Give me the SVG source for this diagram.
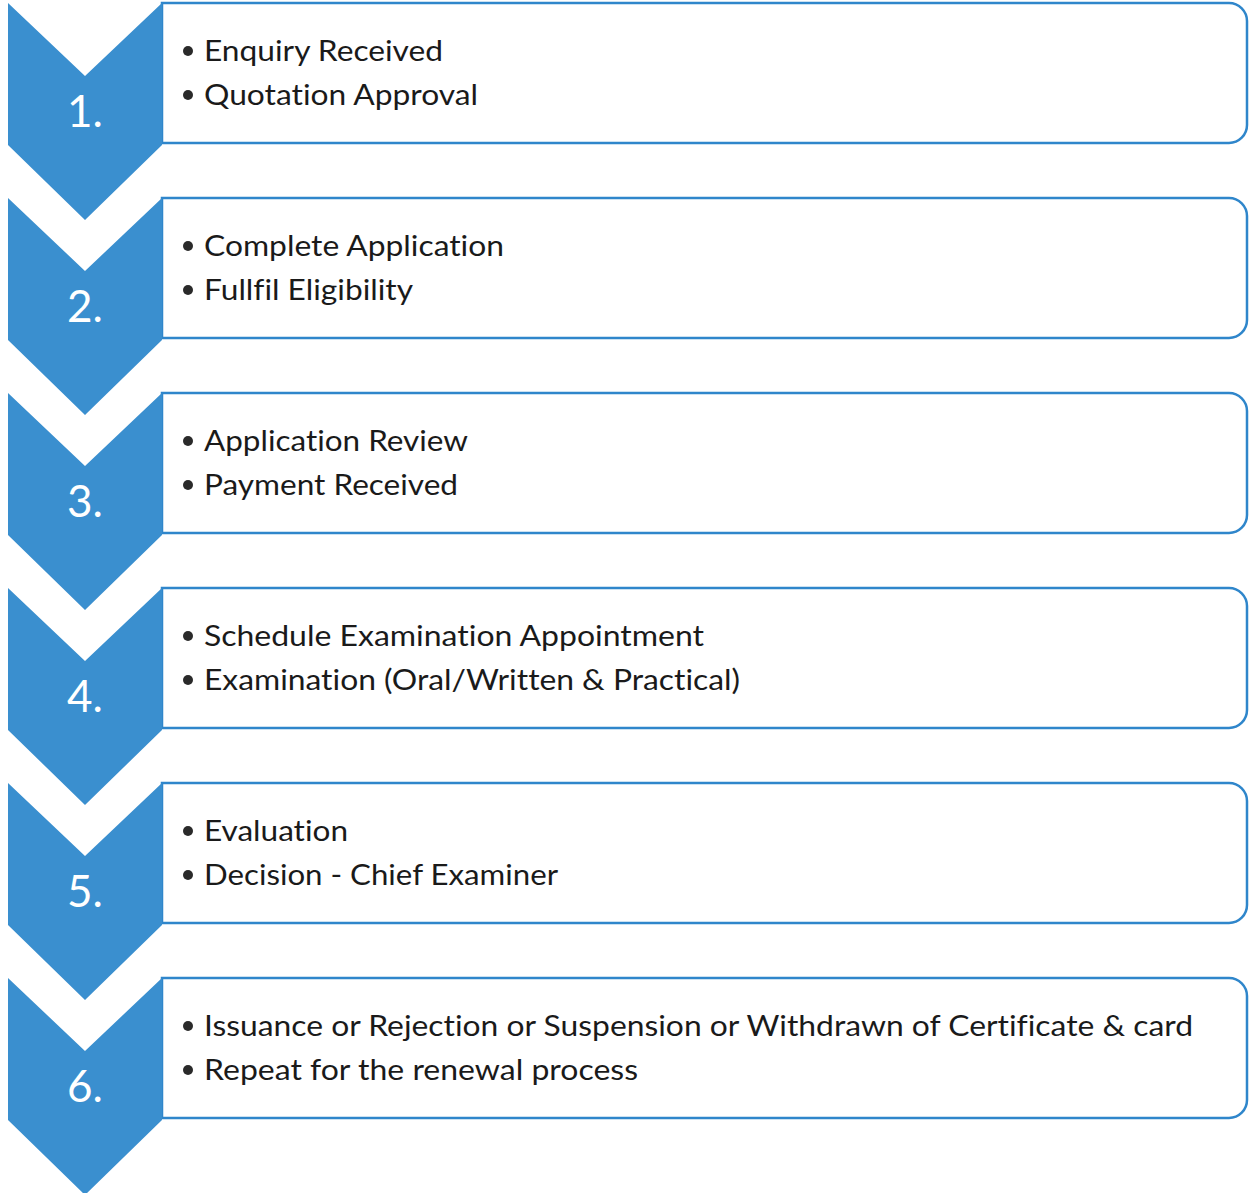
<svg xmlns="http://www.w3.org/2000/svg" width="1249" height="1193" viewBox="0 0 1249 1193">
<style>
.chev{fill:#3a8fcf}
.box{fill:#ffffff;stroke:#2f86cb;stroke-width:2.5}
.num{font-family:Lato,"Open Sans","Liberation Sans",sans-serif;font-size:44px;fill:#ffffff;text-anchor:middle}
.txt{font-family:Lato,"Open Sans","Liberation Sans",sans-serif;font-size:29px;fill:#1a1a1a;font-variant-ligatures:none;font-feature-settings:"liga" 0,"dlig" 0}
.dot{fill:#2a2a2a}
</style>
<defs>
<path id="boxshape" d="M162,3 H1229 A18,18 0 0 1 1247,21 V125 A18,18 0 0 1 1229,143 H162 Z"/>
<polygon id="chevshape" points="8,3 85,76 162,3 162,145 85,220 8,145"/>
</defs>
<rect width="1249" height="1193" fill="#ffffff"/>
<g id="connectors"></g>
<g id="step1">
<use href="#boxshape" class="box"/>
<use href="#chevshape" class="chev"/>
<text class="num" x="85" y="127">1.</text>
<circle class="dot" cx="188" cy="51" r="5"/>
<text class="txt" x="204" y="61" textLength="239" lengthAdjust="spacingAndGlyphs">Enquiry Received</text>
<circle class="dot" cx="188" cy="95" r="5"/>
<text class="txt" x="204" y="105" textLength="274" lengthAdjust="spacingAndGlyphs">Quotation Approval</text>
</g>
<g id="step2" transform="translate(0,195)">
<use href="#boxshape" class="box"/>
<use href="#chevshape" class="chev"/>
<text class="num" x="85" y="127">2.</text>
<circle class="dot" cx="188" cy="51" r="5"/>
<text class="txt" x="204" y="61" textLength="300" lengthAdjust="spacingAndGlyphs">Complete Application</text>
<circle class="dot" cx="188" cy="95" r="5"/>
<text class="txt" x="204" y="105" textLength="209" lengthAdjust="spacingAndGlyphs">Fullfil Eligibility</text>
</g>
<g id="step3" transform="translate(0,390)">
<use href="#boxshape" class="box"/>
<use href="#chevshape" class="chev"/>
<text class="num" x="85" y="127">3.</text>
<circle class="dot" cx="188" cy="51" r="5"/>
<text class="txt" x="204" y="61" textLength="264" lengthAdjust="spacingAndGlyphs">Application Review</text>
<circle class="dot" cx="188" cy="95" r="5"/>
<text class="txt" x="204" y="105" textLength="254" lengthAdjust="spacingAndGlyphs">Payment Received</text>
</g>
<g id="step4" transform="translate(0,585)">
<use href="#boxshape" class="box"/>
<use href="#chevshape" class="chev"/>
<text class="num" x="85" y="127">4.</text>
<circle class="dot" cx="188" cy="51" r="5"/>
<text class="txt" x="204" y="61" textLength="500" lengthAdjust="spacingAndGlyphs">Schedule Examination Appointment</text>
<circle class="dot" cx="188" cy="95" r="5"/>
<text class="txt" x="204" y="105" textLength="536" lengthAdjust="spacingAndGlyphs">Examination (Oral/Written &amp; Practical)</text>
</g>
<g id="step5" transform="translate(0,780)">
<use href="#boxshape" class="box"/>
<use href="#chevshape" class="chev"/>
<text class="num" x="85" y="127">5.</text>
<circle class="dot" cx="188" cy="51" r="5"/>
<text class="txt" x="204" y="61" textLength="144" lengthAdjust="spacingAndGlyphs">Evaluation</text>
<circle class="dot" cx="188" cy="95" r="5"/>
<text class="txt" x="204" y="105" textLength="354" lengthAdjust="spacingAndGlyphs">Decision - Chief Examiner</text>
</g>
<g id="step6" transform="translate(0,975)">
<use href="#boxshape" class="box"/>
<use href="#chevshape" class="chev"/>
<text class="num" x="85" y="127">6.</text>
<circle class="dot" cx="188" cy="51" r="5"/>
<text class="txt" x="204" y="61" textLength="989" lengthAdjust="spacingAndGlyphs">Issuance or Rejection or Suspension or Withdrawn of Certificate &amp; card</text>
<circle class="dot" cx="188" cy="95" r="5"/>
<text class="txt" x="204" y="105" textLength="434" lengthAdjust="spacingAndGlyphs">Repeat for the renewal process</text>
</g>
</svg>
